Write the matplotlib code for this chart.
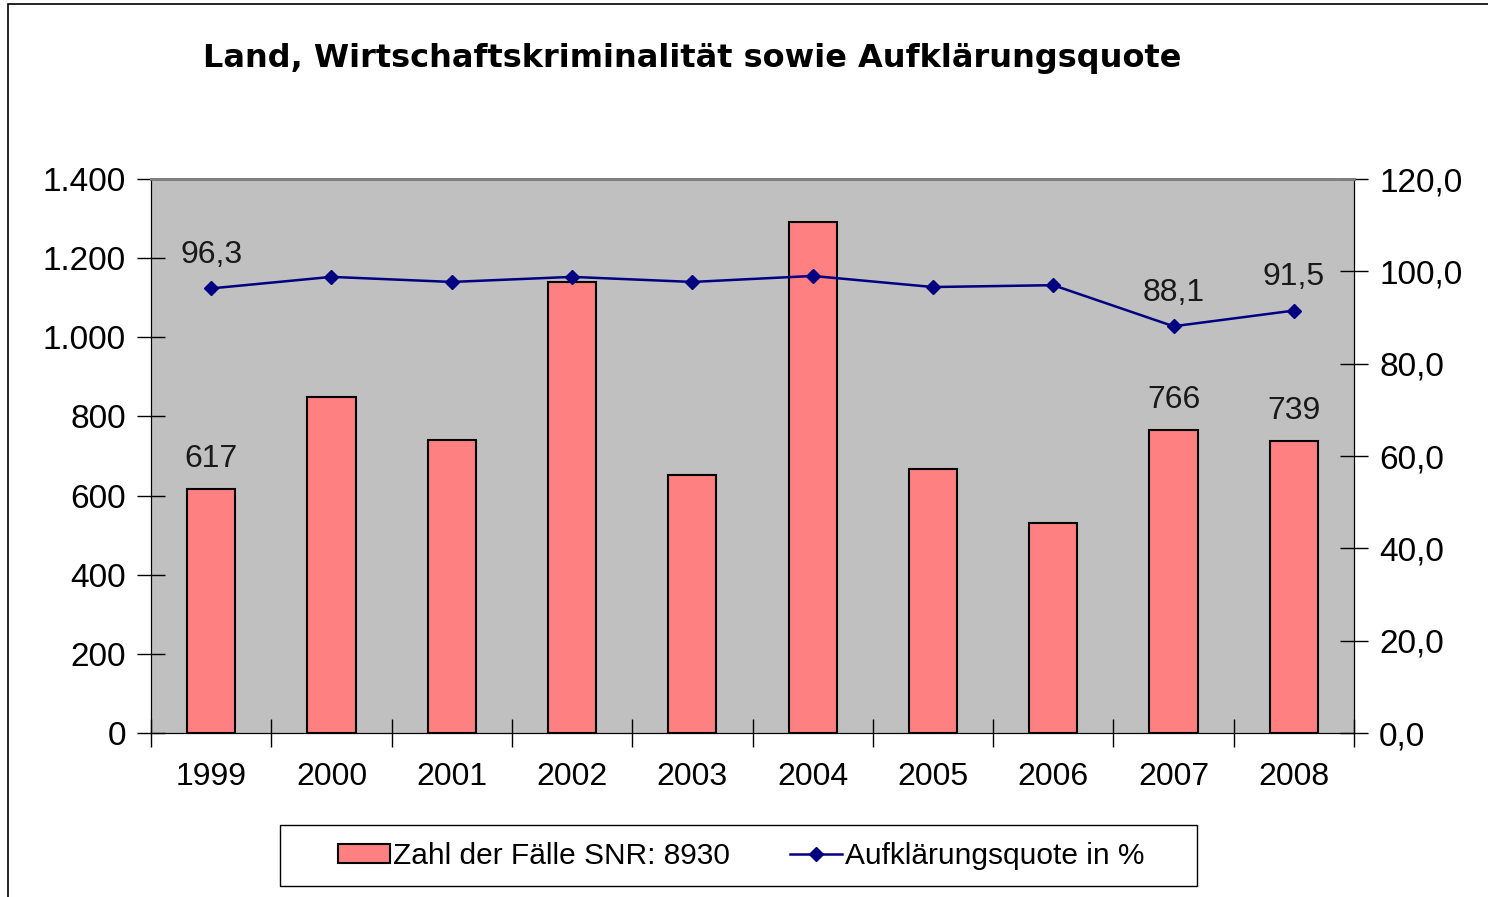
import matplotlib
matplotlib.use('Agg')
import matplotlib.pyplot as plt
import numpy as np
from matplotlib.patches import Rectangle
from matplotlib.lines import Line2D

plt.rcParams['font.family'] = ['Liberation Sans', 'DejaVu Sans']

# data
years = ['1999', '2000', '2001', '2002', '2003', '2004', '2005', '2006', '2007', '2008']
cases = [617, 849, 740, 1140, 652, 1291, 667, 531, 766, 739]
quote = [96.3, 98.8, 97.7, 98.8, 97.7, 99.0, 96.6, 97.0, 88.1, 91.5]
case_labels = {0: '617', 8: '766', 9: '739'}
quote_labels = {0: '96,3', 8: '88,1', 9: '91,5'}

fig = plt.figure(figsize=(14.88, 8.97), dpi=100)
ax = fig.add_axes([151/1488, 1 - 733/897, (1354-151)/1488, (733-179)/897])
ax2 = ax.twinx()

x = np.arange(len(years))
ax.set_facecolor('#C0C0C0')
ax.bar(x, cases, width=0.4, color='#FF8080', edgecolor='black', linewidth=1.5, zorder=2)
ax.set_xlim(-0.5, len(years) - 0.5)
ax.set_ylim(0, 1400)
ax.set_yticks(range(0, 1401, 200))
ax.set_yticklabels([f'{v:,}'.replace(',', '.') for v in range(0, 1401, 200)], fontsize=24)
ax.set_xticks(x)
ax.set_xticklabels(years, fontsize=23)
ax.tick_params(axis='x', length=0, pad=21)
ax.set_xticks(np.arange(-0.5, len(years)), minor=True)
ax.tick_params(axis='x', which='minor', direction='inout', length=20, width=1)
ax.tick_params(axis='y', direction='inout', length=20, width=1, pad=8)

for i, lab in case_labels.items():
    ax.text(x[i], cases[i] + 38, lab, ha='center', va='bottom', fontsize=23, color='#1a1a1a')

ax2.plot(x, quote, color='#000080', linewidth=1.8, marker='D', markersize=7, zorder=3)
ax2.set_ylim(0, 120)
ax2.set_yticks(range(0, 121, 20))
ax2.set_yticklabels([f'{v},0' for v in range(0, 121, 20)], fontsize=24)
ax2.tick_params(axis='y', direction='inout', length=20, width=1, pad=8)
for i, lab in quote_labels.items():
    ax2.text(x[i], quote[i] + 4.0, lab, ha='center', va='bottom', fontsize=23, color='#1a1a1a')

for a in (ax, ax2):
    a.spines['top'].set_color('#808080')
    a.spines['top'].set_linewidth(2)
    a.spines['left'].set_color('black')
    a.spines['right'].set_color('black')
    a.spines['bottom'].set_color('black')

fig.text(692/1488, 1 - 59/897, 'Land, Wirtschaftskriminalität sowie Aufklärungsquote',
         ha='center', va='center', fontsize=23, fontweight='bold', family=['DejaVu Sans'])

# outer chart border
fig.patches.append(Rectangle((8/1488, -0.01), 1.1, 1 - 4/897 + 0.01, transform=fig.transFigure,
                             fill=False, edgecolor='black', linewidth=1.2))

# legend frame
fig.patches.append(Rectangle((280/1488, 1 - 886/897), (1197-280)/1488, 61/897,
                             transform=fig.transFigure, fill=False, edgecolor='black', linewidth=1))
handles = [Rectangle((0, 0), 1, 1, facecolor='#FF8080', edgecolor='black', linewidth=1.5),
           Line2D([], [], color='#000080', marker='D', markersize=7, linewidth=1.8)]
leg = fig.legend(handles, ['Zahl der Fälle SNR: 8930', 'Aufklärungsquote in %'],
                 loc='center', bbox_to_anchor=(741/1488, 1 - 856/897), ncol=2, fontsize=21.5,
                 frameon=False, handlelength=1.75, handleheight=0.6,
                 handletextpad=0.1, columnspacing=2.0, borderpad=0, borderaxespad=0)

fig.savefig('out.png', dpi=100)
